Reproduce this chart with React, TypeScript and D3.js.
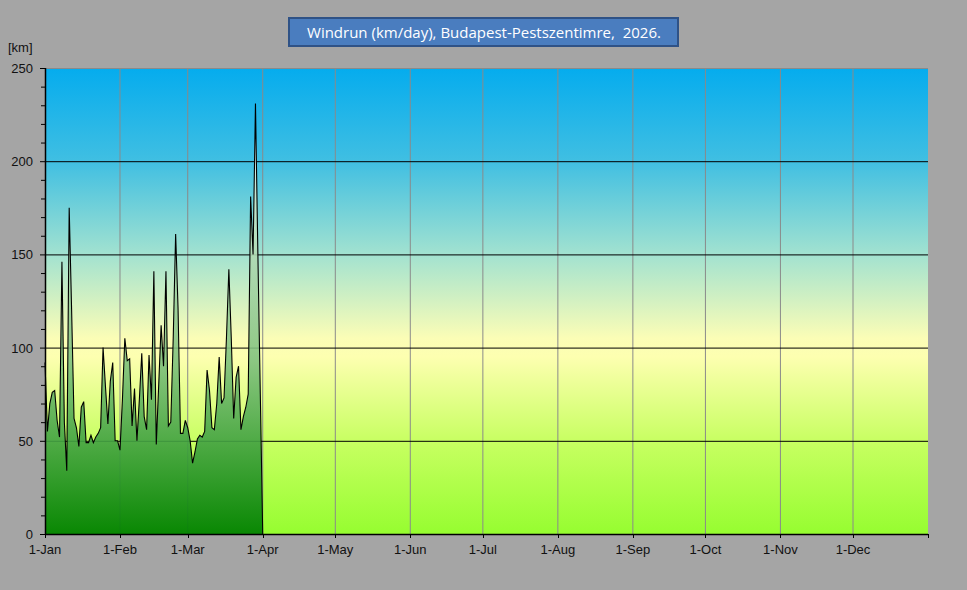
import React from "react"
import * as d3 from "d3"

// daily windrun, km, 1-Jan .. 1-Apr 2026
const windrun = [
  92, 55, 70, 76, 77, 61, 52, 146, 60, 34,
  175, 120, 62, 57, 47, 68, 71, 49, 49, 53,
  49, 52, 54, 57, 100, 79, 59, 82, 92, 50,
  50, 45, 72, 105, 93, 94, 58, 78, 50, 72,
  97, 63, 56, 96, 72, 141, 48, 80, 112, 90,
  141, 58, 60, 105, 161, 121, 54, 54, 61, 57,
  50, 38, 44, 51, 53, 52, 55, 88, 77, 57,
  56, 70, 95, 70, 73, 105, 142, 105, 62, 84,
  90, 56, 63, 68, 75, 181, 150, 231, 150, 75,
  0,
]
const yTicks = [0, 50, 100, 150, 200, 250]
const monthLabels = ["Jan", "Feb", "Mar", "Apr", "May", "Jun", "Jul", "Aug", "Sep", "Oct", "Nov", "Dec"]
const title = "Windrun (km/day), Budapest-Pestszentimre,  2026."
const unitLabel = "[km]"

const W = 967
const H = 590
const plot = { left: 45, right: 928, top: 68, bottom: 534 }
const font = "'Liberation Sans', Arial, sans-serif"

const App: React.FC = () => {
  const start = new Date(Date.UTC(2026, 0, 1))
  const end = new Date(Date.UTC(2027, 0, 1))
  const x = d3.scaleUtc().domain([start, end]).range([plot.left, plot.right])
  const y = d3.scaleLinear().domain([0, 250]).range([plot.bottom, plot.top])

  const data = windrun.map((v, i) => ({ date: d3.utcDay.offset(start, i), v }))

  const area = d3.area<{ date: Date; v: number }>()
    .x(d => x(d.date))
    .y0(y(0))
    .y1(d => y(d.v))
  const line = d3.line<{ date: Date; v: number }>()
    .x(d => x(d.date))
    .y(d => y(d.v))

  const months = d3.utcMonth.range(start, end)
  const minor = d3.range(0, 251, 10)
  const peak = d3.max(windrun) as number

  return (
    <svg width={W} height={H} style={{ position: "absolute", left: 0, top: 0, display: "block" }}>
      <defs>
        <linearGradient id="bg-grad" x1="0" y1="0" x2="0" y2="1">
          <stop offset="0%" stopColor="#05acee" />
          <stop offset="20%" stopColor="#40bfe2" />
          <stop offset="40%" stopColor="#a2e2d0" />
          <stop offset="58%" stopColor="#fbfdb6" />
          <stop offset="62%" stopColor="#fdffb0" />
          <stop offset="80%" stopColor="#c8ff62" />
          <stop offset="100%" stopColor="#96fd30" />
        </linearGradient>
        <linearGradient id="area-grad" gradientUnits="userSpaceOnUse" x1="0" y1={y(0)} x2="0" y2={y(peak)}>
          <stop offset="0%" stopColor="#008000" stopOpacity={0.94} />
          <stop offset="40%" stopColor="#7cbf7c" stopOpacity={0.88} />
          <stop offset="100%" stopColor="#ffffff" stopOpacity={0.9} />
        </linearGradient>
      </defs>

      <rect x={0} y={0} width={W} height={H} fill="#a5a5a5" />

      {/* plot background */}
      <rect x={plot.left} y={plot.top} width={plot.right - plot.left} height={plot.bottom - plot.top} fill="url(#bg-grad)" />

      {/* vertical month grid */}
      {months.slice(1).map(m => (
        <line key={+m} x1={x(m)} x2={x(m)} y1={plot.top} y2={plot.bottom} stroke="#8a8a8a" strokeWidth={1} />
      ))}
      {/* horizontal grid */}
      {yTicks.filter(t => t > 0 && t < 250).map(t => (
        <line key={t} x1={plot.left} x2={plot.right} y1={y(t) + 0.5} y2={y(t) + 0.5} stroke="#000" strokeWidth={1} />
      ))}
      <line x1={plot.left} x2={plot.right} y1={plot.top + 0.5} y2={plot.top + 0.5} stroke="#8a8a8a" strokeWidth={1} />

      {/* data */}
      <path d={area(data) ?? ""} fill="url(#area-grad)" />
      <path d={line(data) ?? ""} fill="none" stroke="#000" strokeWidth={1.1} strokeLinejoin="miter" />

      {/* y axis */}
      <line x1={plot.left + 0.5} x2={plot.left + 0.5} y1={plot.top} y2={plot.bottom} stroke="#000" strokeWidth={1.5} />
      {minor.map(t => (
        <line key={t} x1={plot.left - (t % 50 === 0 ? 5 : 4)} x2={plot.left} y1={y(t) + 0.5} y2={y(t) + 0.5} stroke="#000" strokeWidth={1} />
      ))}
      {yTicks.map(t => (
        <text key={t} x={33} y={y(t) + 5} textAnchor="end" fontFamily={font} fontSize={13} fill="#111">{t}</text>
      ))}
      <text x={8} y={52} fontFamily={font} fontSize={13} fill="#111">{unitLabel}</text>

      {/* x axis */}
      <line x1={plot.left} x2={plot.right} y1={plot.bottom + 0.5} y2={plot.bottom + 0.5} stroke="#000" strokeWidth={1.5} />
      {[...months, end].map(m => (
        <line key={+m} x1={Math.round(x(m)) + 0.5} x2={Math.round(x(m)) + 0.5} y1={plot.bottom} y2={plot.bottom + 4} stroke="#000" strokeWidth={1} />
      ))}
      {months.map((m, i) => (
        <text key={+m} x={x(m)} y={plot.bottom + 20} textAnchor="middle" fontFamily={font} fontSize={13} fill="#111">
          {`1-${monthLabels[i]}`}
        </text>
      ))}

      {/* title box */}
      <rect x={289} y={18} width={389} height={28} fill="#4a7dbf" stroke="#2f5286" strokeWidth={2} />
      <text x={484} y={37.5} textAnchor="middle" fontFamily="'Open Sans', 'Noto Sans', sans-serif" fontSize={15} fill="#fff" style={{ whiteSpace: "pre" }}>
        {title}
      </text>
    </svg>
  )
}

export default App
